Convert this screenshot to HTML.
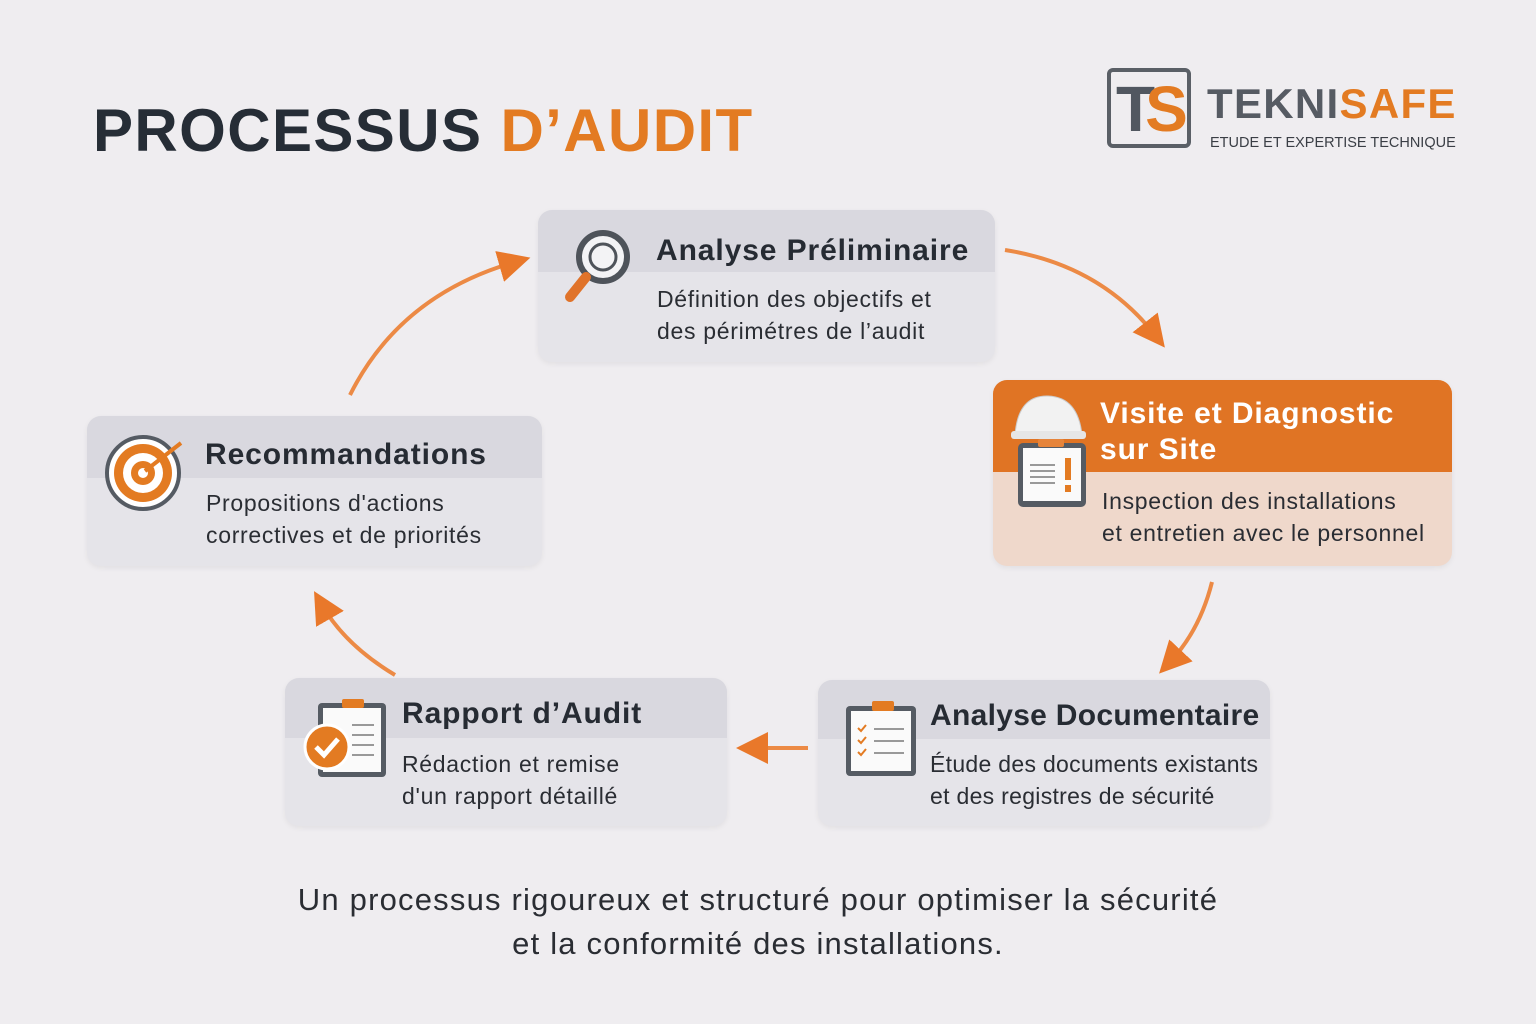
<!DOCTYPE html>
<html><head><meta charset="utf-8"><style>
body{margin:0;width:1536px;height:1024px;background:#efedf0;font-family:"Liberation Sans",sans-serif;position:relative;overflow:hidden}
.t{position:absolute}
.card{position:absolute;border-radius:14px;background:#e5e4e9;overflow:hidden;box-shadow:0 2px 6px rgba(0,0,0,.06)}
.card .hd{position:absolute;left:0;right:0;top:0;background:#d9d8df}
.card h3{position:absolute;margin:0;font-size:30px;letter-spacing:0.9px;font-weight:bold;color:#262b33;white-space:nowrap}
.card p{position:absolute;margin:0;font-size:23px;letter-spacing:0.7px;line-height:32px;color:#2a2d33;white-space:nowrap}
</style></head><body>
<div class="t" style="left:93px;top:96px;font-size:60px;font-weight:bold;color:#262d36;letter-spacing:1.4px;white-space:nowrap">PROCESSUS <span style="color:#e37b22">D’AUDIT</span></div>

<div class="t" style="left:1107px;top:68px;width:84px;height:80px;border:4px solid #5a5f66;border-radius:6px;box-sizing:border-box"></div>
<div class="t" style="left:1116px;top:72px;font-size:64px;font-weight:bold;color:#515760;letter-spacing:-10px">T<span style="color:#e37b22">S</span></div>
<div class="t" style="left:1207px;top:80px;font-size:42px;font-weight:bold;color:#565b63;letter-spacing:1.3px">TEKNI<span style="color:#e37b22">SAFE</span></div>
<div class="t" style="left:1210px;top:135px;font-size:14.5px;color:#3a3e45">ETUDE ET EXPERTISE TECHNIQUE</div>

<svg class="t" style="left:0;top:0" width="1536" height="1024">
<defs><marker id="a" markerWidth="8" markerHeight="8" refX="4" refY="4" orient="auto" markerUnits="strokeWidth"><path d="M0,0 L8,4 L0,8 Z" fill="#e9782a"/></marker></defs>
<g fill="none" stroke="#ec8a45" stroke-width="4">
<path d="M1005,250 Q1100,265 1155,335" marker-end="url(#a)"/>
<path d="M1212,582 Q1200,630 1170,662" marker-end="url(#a)"/>
<path d="M808,748 L752,748" marker-end="url(#a)"/>
<path d="M395,675 Q345,645 322,605" marker-end="url(#a)"/>
<path d="M350,395 Q400,295 515,262" marker-end="url(#a)"/>
</g></svg>

<div class="card" style="left:538px;top:210px;width:457px;height:152px"><div class="hd" style="height:62px"></div>
<h3 style="left:118px;top:24px">Analyse Préliminaire</h3>
<p style="left:119px;top:73px">Définition des objectifs et<br>des périmétres de l’audit</p></div>
<svg class="t" style="left:560px;top:225px" width="80" height="85"><circle cx="43" cy="32" r="24" fill="#f3f3f5" stroke="#4e535a" stroke-width="6"/><circle cx="43" cy="32" r="13" fill="none" stroke="#4e535a" stroke-width="3"/><line x1="26" y1="52" x2="10" y2="72" stroke="#e0732a" stroke-width="10" stroke-linecap="round"/></svg>

<div class="card" style="left:993px;top:380px;width:459px;height:186px;background:#efd8cb"><div class="hd" style="height:92px;background:#e07424"></div>
<h3 style="left:107px;top:16px;color:#fff;line-height:36px">Visite et Diagnostic<br>sur Site</h3>
<p style="left:109px;top:105px">Inspection des installations<br>et entretien avec le personnel</p></div>
<svg class="t" style="left:1010px;top:393px" width="80" height="120"><path d="M5,42 Q8,2 38,3 Q68,4 72,42 Z" fill="#f2f2f2" stroke="#ccc"/><rect x="1" y="38" width="75" height="8" rx="3" fill="#e6e6e6"/><rect x="8" y="50" width="68" height="64" rx="5" fill="#555b63"/><rect x="13" y="55" width="58" height="53" fill="#fafafa"/><rect x="28" y="46" width="26" height="8" rx="2" fill="#e6843a"/><g stroke="#999" stroke-width="2"><line x1="20" y1="72" x2="45" y2="72"/><line x1="20" y1="78" x2="45" y2="78"/><line x1="20" y1="84" x2="45" y2="84"/><line x1="20" y1="90" x2="45" y2="90"/></g><rect x="55" y="65" width="6" height="22" fill="#e37b22"/><rect x="55" y="92" width="6" height="7" fill="#e37b22"/></svg>

<div class="card" style="left:87px;top:416px;width:455px;height:150px"><div class="hd" style="height:62px"></div>
<h3 style="left:118px;top:22px">Recommandations</h3>
<p style="left:119px;top:71px">Propositions d'actions<br>correctives et de priorités</p></div>
<svg class="t" style="left:103px;top:433px" width="90" height="80"><circle cx="40" cy="40" r="36" fill="#fff" stroke="#555b63" stroke-width="4"/><circle cx="40" cy="40" r="29" fill="#e37b22"/><circle cx="40" cy="40" r="20" fill="#fff"/><circle cx="40" cy="40" r="12" fill="#e37b22"/><circle cx="40" cy="40" r="5" fill="#fff"/><line x1="42" y1="38" x2="78" y2="10" stroke="#e37b22" stroke-width="4"/></svg>

<div class="card" style="left:285px;top:678px;width:442px;height:148px"><div class="hd" style="height:60px"></div>
<h3 style="left:117px;top:19px">Rapport d’Audit</h3>
<p style="left:117px;top:70px">Rédaction et remise<br>d'un rapport détaillé</p></div>
<svg class="t" style="left:302px;top:695px" width="90" height="90"><rect x="16" y="8" width="68" height="74" rx="4" fill="#555b63"/><rect x="21" y="13" width="58" height="64" fill="#fafafa"/><rect x="40" y="4" width="22" height="9" rx="2" fill="#e37b22"/><g stroke="#999" stroke-width="2"><line x1="50" y1="30" x2="72" y2="30"/><line x1="50" y1="40" x2="72" y2="40"/><line x1="50" y1="50" x2="72" y2="50"/><line x1="50" y1="60" x2="72" y2="60"/></g><circle cx="25" cy="52" r="22" fill="#e37b22" stroke="#fff" stroke-width="3"/><path d="M14,52 L22,60 L36,44" stroke="#fff" stroke-width="5" fill="none"/></svg>

<div class="card" style="left:818px;top:680px;width:452px;height:146px"><div class="hd" style="height:59px"></div>
<h3 style="left:112px;top:19px;letter-spacing:0.3px">Analyse Documentaire</h3>
<p style="left:112px;top:68px;letter-spacing:0.3px">Étude des documents existants<br>et des registres de sécurité</p></div>
<svg class="t" style="left:842px;top:698px" width="80" height="85"><rect x="4" y="8" width="70" height="70" rx="4" fill="#555b63"/><rect x="9" y="13" width="60" height="60" fill="#fafafa"/><rect x="30" y="3" width="22" height="10" rx="2" fill="#e37b22"/><g stroke="#e37b22" stroke-width="2" fill="none"><path d="M16,30 l3,3 l5,-6"/><path d="M16,42 l3,3 l5,-6"/><path d="M16,54 l3,3 l5,-6"/></g><g stroke="#999" stroke-width="2"><line x1="32" y1="31" x2="62" y2="31"/><line x1="32" y1="43" x2="62" y2="43"/><line x1="32" y1="55" x2="62" y2="55"/></g></svg>

<div class="t" style="left:0;width:1516px;top:878px;text-align:center;font-size:31px;letter-spacing:1.2px;line-height:44px;color:#2a2d33">Un processus rigoureux et structuré pour optimiser la sécurité<br>et la conformité des installations.</div>
</body></html>
